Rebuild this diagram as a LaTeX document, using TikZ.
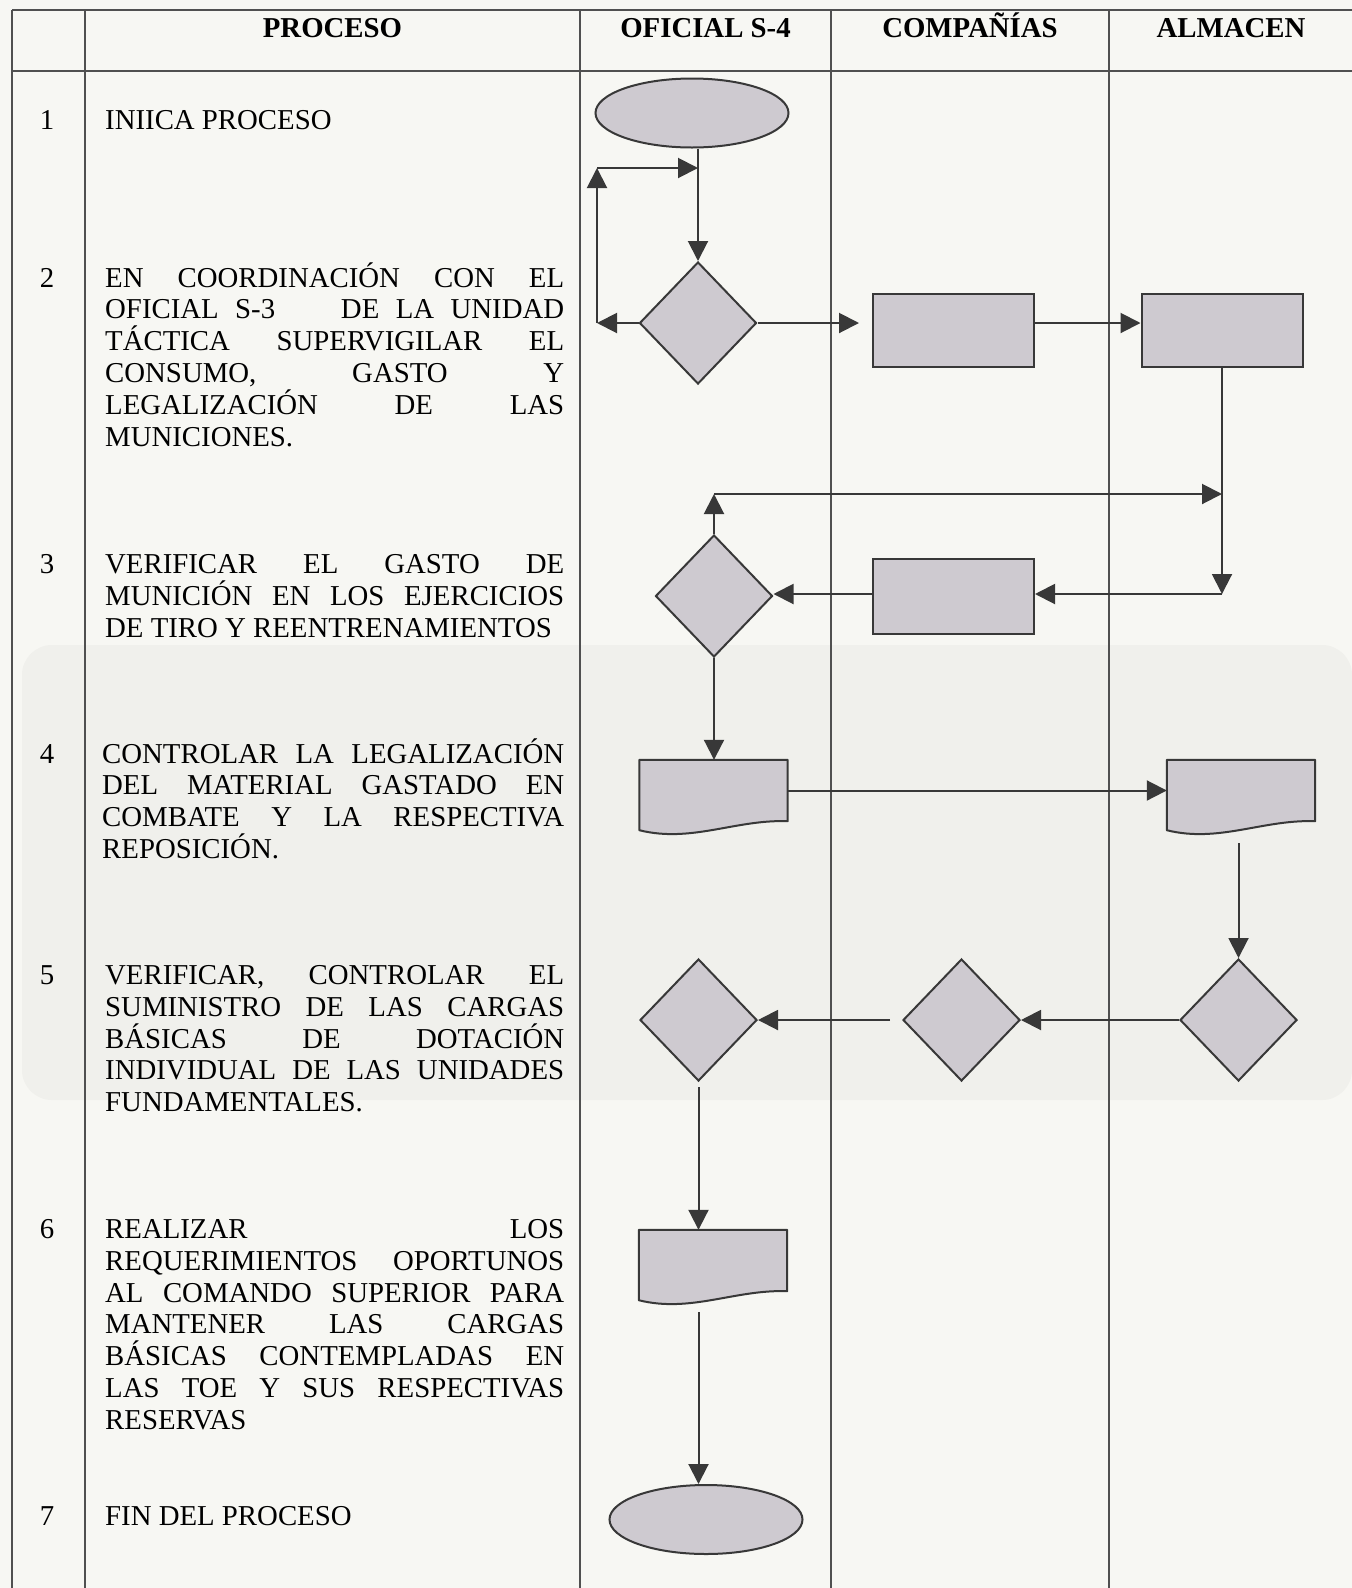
\documentclass[tikz,border=0pt]{standalone}
\usepackage{fontspec}
\setmainfont{Liberation Serif}
\usepackage{tikz}
\usetikzlibrary{positioning, arrows.meta, calc, shapes.geometric}
\usepackage{xcolor}
\definecolor{flujoFondo}{HTML}{F7F7F3}
\definecolor{flujoBanda}{HTML}{F0F0EC}
\definecolor{flujoLinea}{HTML}{383838}
\definecolor{flujoTabla}{HTML}{505050}
\definecolor{flujoCaja}{HTML}{CECAD0}

% linea justificada de ancho fijo
\newcommand{\jline}[2][459pt]{\makebox[#1][s]{\spaceskip=\fontdimen2\font plus 1fil\relax #2}}
% contorno de documento sobre un nodo
\newcommand{\documento}[1]{%
  \filldraw[draw=flujoLinea, fill=flujoCaja, line width=2pt, line join=round]
    (#1.north west) -- (#1.north east) -- (#1.south east)
    .. controls ($(#1.south east)!0.35!(#1.south west)+(0,-2)$)
    and ($(#1.south east)!0.65!(#1.south west)+(0,22)$)
    .. ($(#1.south west)+(0,9)$) -- cycle;}

\begin{document}
\begin{tikzpicture}[x=1pt, y=-1pt, font=\fontsize{28.8}{31.8}\selectfont,
    caja/.style={draw=flujoLinea, fill=flujoCaja, line width=2pt, inner sep=0pt},
    proc/.style={caja, rectangle, minimum width=161pt, minimum height=73pt},
    decision/.style={caja, diamond, minimum width=117pt, minimum height=122pt},
    terminal/.style={caja, ellipse, minimum width=193pt, minimum height=69pt},
    docu/.style={rectangle, inner sep=0pt, minimum width=148pt, minimum height=61pt},
    flecha/.style={draw=flujoLinea, line width=2pt, -{Triangle[length=20pt, width=20pt]}},
    linea/.style={draw=flujoTabla, line width=2pt},
    paso/.style={anchor=base west, inner sep=0pt, text width=459pt, align=justify},
    num/.style={anchor=base, inner sep=0pt},
    titulo/.style={anchor=base, inner sep=0pt, font=\fontsize{28.8}{31.8}\selectfont\bfseries}]
  \useasboundingbox (0,0) rectangle (1352,1588);
  \fill[flujoFondo] (0,0) rectangle (1352,1588);
  \fill[flujoBanda, rounded corners=30pt] (22,645) rectangle (1352,1100);

  % Tabla
  \draw[linea, line width=2.5pt] (12,10) -- (1352,10);
  \draw[linea] (12,71) -- (1352,71);
  \foreach \x in {12,85,580,831,1109} {
    \draw[linea] (\x,10) -- (\x,1588);
  }
  \foreach \t/\x/\n in {PROCESO/332.5/proceso, {OFICIAL S-4}/705.5/oficial,
                        COMPAÑÍAS/970/companias, ALMACEN/1231/almacen} {
    \node[titulo] (tit-\n) at (\x,37) {\t};
  }
  \foreach \n/\y in {1/129, 2/287, 3/573.5, 4/763, 5/984.5, 6/1238.5, 7/1525.5} {
    \node[num] (num\n) at (47,\y) {\n};
  }

  % Pasos
  \node[paso] (paso1) at (105,129) {INIICA PROCESO};
  \node[paso] (paso2) at (105,287) {\jline{EN COORDINACIÓN CON EL}\\
    \jline{OFICIAL S-3 {} {} {} DE LA UNIDAD}\\ \jline{TÁCTICA SUPERVIGILAR EL}\\
    \jline{CONSUMO, GASTO Y}\\ \jline{LEGALIZACIÓN DE LAS}\\ MUNICIONES.};
  \node[paso] (paso3) at (105,573.5) {\jline{VERIFICAR EL GASTO DE}\\
    \jline{MUNICIÓN EN LOS EJERCICIOS}\\ DE TIRO Y REENTRENAMIENTOS};
  \node[paso, text width=462pt] (paso4) at (102,763) {\jline[462pt]{CONTROLAR LA LEGALIZACIÓN}\\
    \jline[462pt]{DEL MATERIAL GASTADO EN}\\ \jline[462pt]{COMBATE Y LA RESPECTIVA}\\ REPOSICIÓN.};
  \node[paso] (paso5) at (105,984.5) {\jline{VERIFICAR, CONTROLAR EL}\\
    \jline{SUMINISTRO DE LAS CARGAS}\\ \jline{BÁSICAS DE DOTACIÓN}\\
    \jline{INDIVIDUAL DE LAS UNIDADES}\\ FUNDAMENTALES.};
  \node[paso] (paso6) at (105,1238.5) {\jline{REALIZAR LOS}\\
    \jline{REQUERIMIENTOS OPORTUNOS}\\ \jline{AL COMANDO SUPERIOR PARA}\\
    \jline{MANTENER LAS CARGAS}\\ \jline{BÁSICAS CONTEMPLADAS EN}\\
    \jline{LAS TOE Y SUS RESPECTIVAS}\\ RESERVAS};
  \node[paso] (paso7) at (105,1525.5) {FIN DEL PROCESO};

  % Simbolos
  \node[terminal] (inicio) at (692,113) {};
  \node[decision] (d1) at (698,323) {};
  \node[proc] (r1) at (953.5,330.5) {};
  \node[proc] (r2) at (1222,330.5) {};
  \node[decision] (d2) at (714,596) {};
  \node[proc, minimum height=75pt] (r3) at (953.5,596.5) {};
  \node[docu] (doc1) at (713.5,790.5) {};
  \node[docu] (doc2) at (1241,790.5) {};
  \documento{doc1}
  \documento{doc2}
  \node[decision] (d3) at (698.5,1020) {};
  \node[decision] (d4) at (961.5,1020) {};
  \node[decision] (d5) at (1238.5,1020) {};
  \node[docu] (doc3) at (713,1260.5) {};
  \documento{doc3}
  \node[terminal] (fin) at (706,1519.5) {};

  \coordinate (lazoA) at (597,323);
  \coordinate (lazoB) at (597,168);
  \coordinate (lazoC) at (698,168);
  \coordinate (esqD) at (1222,594);
  \coordinate (esqA) at (714,494);

  % Conectores
  \draw[flecha] (d1.north |- inicio.south) -- (d1.north);
  \draw[flecha] (d1.west) -- (lazoA);
  \draw[flecha] (lazoA) -- (lazoB);
  \draw[flecha] (lazoB) -- (lazoC);
  \draw[flecha, shorten >=13pt] (d1.east) -- (d1.east -| r1.west);
  \draw[flecha] (d1.east -| r1.east) -- (d1.east -| r2.west);
  \draw[flecha] (r2.south) -- (esqD);
  \draw[flecha] (esqD) -- (esqD -| r3.east);
  \draw[flecha] (r3.west |- esqD) -- (d2.east |- esqD);
  \draw[flecha] (d2.north) -- (esqA);
  \draw[flecha] (esqA) -- (esqA -| esqD);
  \draw[flecha] (d2.south) -- (d2.south |- doc1.north);
  \draw[flecha] (doc1.east) -- (doc2.west);
  \draw[flecha, shorten <=22pt] (d5.north |- doc2.south) -- (d5.north);
  \draw[flecha] (d5.west) -- (d4.east);
  \draw[flecha, shorten <=12pt] (d4.west) -- (d3.east);
  \draw[flecha, shorten <=5pt] (d3.south) -- (d3.south |- doc3.north);
  \draw[flecha, shorten <=21pt] (d3.south |- doc3.south) -- (d3.south |- fin.north);
\end{tikzpicture}
\end{document}
